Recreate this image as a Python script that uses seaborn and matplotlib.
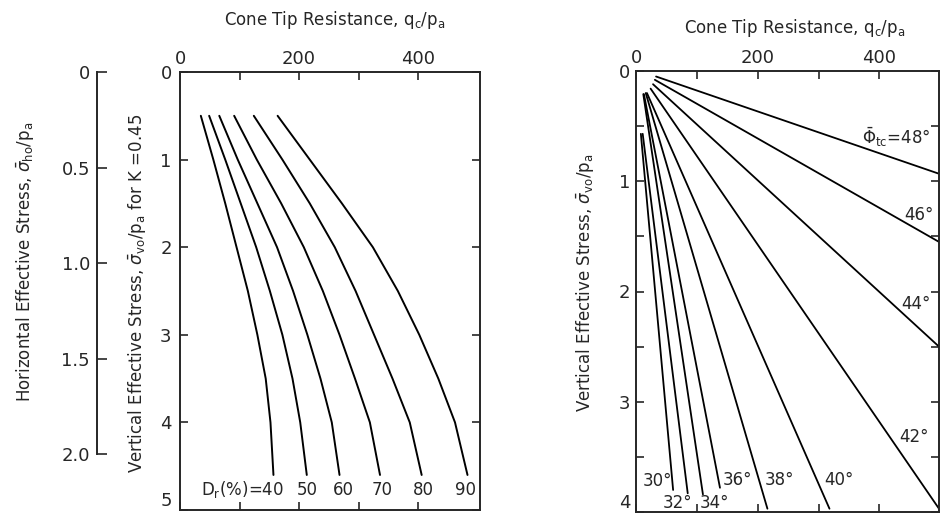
import pandas as pd
import seaborn as sns
import matplotlib.pyplot as plt

# left chart: qc/pa at these vertical stresses
sv_levels = [0.5, 1.0, 1.5, 2.0, 2.5, 3.0, 3.5, 4.0, 4.6]
dr_values = [40, 50, 60, 70, 80, 90]
qc_dr40 = [35, 56, 76, 95, 114, 130, 144, 152, 157]
qc_dr50 = [49, 76, 102, 128, 151, 172, 189, 202, 213]
qc_dr60 = [66, 97, 130, 163, 190, 214, 236, 255, 268]
qc_dr70 = [91, 129, 170, 208, 240, 268, 294, 319, 336]
qc_dr80 = [124, 172, 218, 260, 295, 326, 357, 386, 406]
qc_dr90 = [164, 218, 272, 324, 366, 402, 434, 462, 483]

# right chart: friction angle lines, start and end points (qc/pa, sigma_vo/pa)
phi_values = [30, 32, 34, 36, 38, 40, 42, 44, 46, 48]
phi_qc_start = [8, 11, 12, 13, 16, 18, 24, 28, 31, 33]
phi_sv_start = [0.57, 0.57, 0.21, 0.21, 0.20, 0.20, 0.16, 0.12, 0.08, 0.05]
phi_qc_end = [61, 85, 110, 138, 216, 318, 498, 498, 498, 497]
phi_sv_end = [3.80, 3.83, 3.84, 3.78, 3.97, 3.97, 3.97, 2.50, 1.55, 0.93]

# horizontal stress scale on the far left
sh_ticks = [0, 0.5, 1.0, 1.5, 2.0]
sh_labels = ["0", "0.5", "1.0", "1.5", "2.0"]

left_rows = []
for dr, qcs in zip(dr_values, [qc_dr40, qc_dr50, qc_dr60, qc_dr70, qc_dr80, qc_dr90]):
    for sv, qc in zip(sv_levels, qcs):
        left_rows.append({"Dr": dr, "qc": qc, "sv": sv})
df_left = pd.DataFrame(left_rows)

right_rows = []
for i, phi in enumerate(phi_values):
    right_rows.append({"phi": phi, "qc": phi_qc_start[i], "sv": phi_sv_start[i]})
    right_rows.append({"phi": phi, "qc": phi_qc_end[i], "sv": phi_sv_end[i]})
df_right = pd.DataFrame(right_rows)

sns.set_style("ticks")
plt.rcParams["font.family"] = ["DejaVu Sans"]
plt.rcParams["mathtext.fontset"] = "dejavusans"

W, H = 941, 516
fig = plt.figure(figsize=(W / 100, H / 100), dpi=100)


def box(x0, y0, x1, y1):
    # pixel box -> figure fraction
    return [x0 / W, 1 - y1 / H, (x1 - x0) / W, (y1 - y0) / H]


ax1 = fig.add_axes(box(180, 72, 480, 510))
ax2 = fig.add_axes(box(636, 71, 939, 512))
axh = fig.add_axes(box(97, 72, 110, 510))

lw = 1.4
tick_fs = 13

# ---- left chart
sns.lineplot(data=df_left, x="qc", y="sv", units="Dr", estimator=None, sort=False,
             color="black", linewidth=lw, ax=ax1, legend=False)
ax1.set_xlim(0, 504)
ax1.set_ylim(5, 0)
ax1.set_xticks([0, 100, 200, 300, 400])
ax1.set_xticklabels(["0", "", "200", "", "400"])
ax1.set_yticks([0, 1, 2, 3, 4, 5])
ax1.set_yticklabels(["0", "1", "2", "3", "4", "5"])
ax1.xaxis.tick_top()
ax1.tick_params(axis="x", top=True, bottom=True, labeltop=True, labelbottom=False,
                direction="in", length=6, width=1.2, labelsize=tick_fs, pad=3)
ax1.tick_params(axis="y", left=True, right=True, direction="in", length=6, width=1.2,
                labelsize=tick_fs, pad=6)
ax1.get_yticklabels()[-1].set_va("bottom")
ax1.set_xlabel("")
ax1.set_ylabel("")
for s in ax1.spines.values():
    s.set_linewidth(lw)
    s.set_visible(True)

ax1.text(174, 4.77, r"D$_\mathregular{r}$(%)=40", ha="right", va="center", fontsize=12)
for dr, qc in zip(dr_values[1:], [213, 274, 339, 409, 479]):
    ax1.text(qc, 4.77, str(dr), ha="center", va="center", fontsize=12)

# ---- horizontal stress scale
axh.set_ylim(2.293, 0)
axh.set_xlim(0, 1)
axh.set_facecolor("none")
for name in ["top", "right", "bottom"]:
    axh.spines[name].set_visible(False)
axh.spines["left"].set_bounds(0, 2.0)
axh.spines["left"].set_linewidth(lw)
axh.set_xticks([])
axh.set_yticks(sh_ticks)
axh.set_yticklabels(sh_labels)
axh.tick_params(axis="y", direction="in", length=7, width=1.2, labelsize=tick_fs, pad=5)

# ---- right chart
sns.lineplot(data=df_right, x="qc", y="sv", units="phi", estimator=None, sort=False,
             color="black", linewidth=1.3, ax=ax2, legend=False)
ax2.set_xlim(0, 498)
ax2.set_ylim(4, 0)
ax2.set_xticks([0, 100, 200, 300, 400])
ax2.set_xticklabels(["0", "", "200", "", "400"])
ax2.set_yticks([0, 1, 2, 3, 4])
ax2.set_yticks([0.5, 1.5, 2.5, 3.5], minor=True)
ax2.xaxis.tick_top()
ax2.tick_params(axis="x", top=True, bottom=True, labeltop=True, labelbottom=False,
                direction="in", length=6, width=1.2, labelsize=tick_fs, pad=3)
ax2.tick_params(axis="y", which="both", left=True, right=True, direction="in",
                length=6, width=1.2, labelsize=tick_fs, pad=4)
ax2.get_yticklabels()[-1].set_va("bottom")
ax2.set_xlabel("")
ax2.set_ylabel("")
for s in ax2.spines.values():
    s.set_linewidth(lw)
    s.set_visible(True)

ax2.text(372, 0.60, r"$\bar{\Phi}_\mathregular{tc}$=48°", ha="left", va="center", fontsize=12)
phi_label_pos = {46: (441, 1.31), 44: (436, 2.11), 42: (433, 3.32), 40: (310, 3.71),
                 38: (211, 3.71), 36: (143, 3.71), 34: (105, 3.92), 32: (44, 3.92),
                 30: (11, 3.72)}
for phi, (qx, sy) in phi_label_pos.items():
    ax2.text(qx, sy, f"{phi}°", ha="left", va="center", fontsize=12)

# ---- axis titles
fig.text(335 / W, 1 - 20 / H, r"Cone Tip Resistance, $\mathregular{q_c/p_a}$",
         ha="center", va="center", fontsize=12)
fig.text(795 / W, 1 - 28 / H, r"Cone Tip Resistance, $\mathregular{q_c/p_a}$",
         ha="center", va="center", fontsize=12)
fig.text(137 / W, 1 - 293 / H,
         r"Vertical Effective Stress, $\bar{\sigma}_\mathregular{vo}/\mathregular{p_a}$ for K =0.45",
         ha="center", va="center", rotation=90, fontsize=12)
fig.text(25 / W, 1 - 262 / H,
         r"Horizontal Effective Stress, $\bar{\sigma}_\mathregular{ho}/\mathregular{p_a}$",
         ha="center", va="center", rotation=90, fontsize=12)
fig.text(585 / W, 1 - 283 / H,
         r"Vertical Effective Stress, $\bar{\sigma}_\mathregular{vo}/\mathregular{p_a}$",
         ha="center", va="center", rotation=90, fontsize=12)

fig.savefig("out.png", dpi=100)
